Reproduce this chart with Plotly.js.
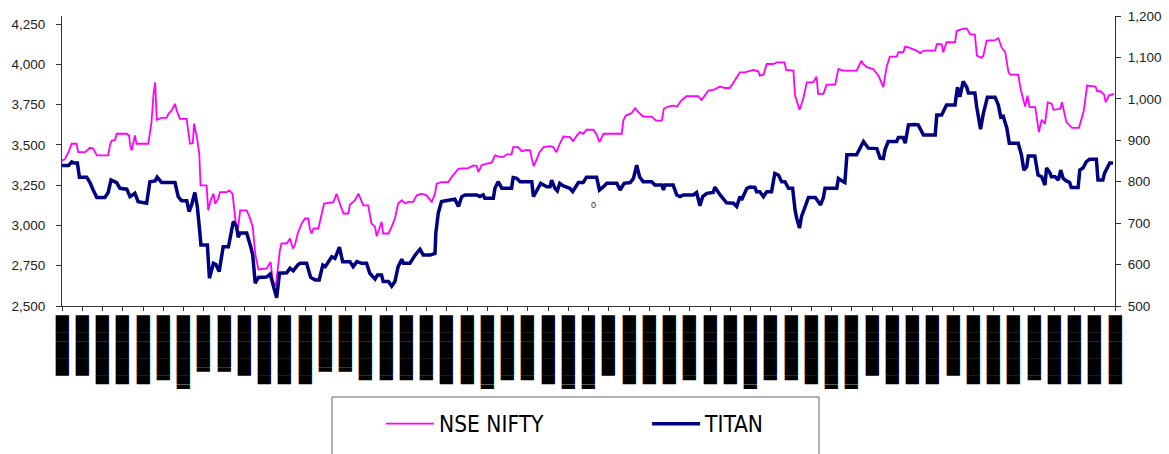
<!DOCTYPE html>
<html>
<head>
<meta charset="utf-8">
<script src="https://cdn.plot.ly/plotly-3.0.1.min.js"></script>
<style>
  html, body { margin: 0; padding: 0; background: #ffffff; }
  #chart { width: 1169px; height: 454px; }
</style>
</head>
<body>
<div id="chart"></div>
<script>
// ---- data (trading day index, value) ----
const niftyDay = [0.0,0.7,1.6,2.4,3.6,4.0,5.7,6.9,7.7,8.6,11.4,11.9,12.3,13.1,13.5,16.0,16.6,16.8,17.2,17.6,18.0,18.4,21.3,22.1,22.6,23.0,23.4,24.6,25.8,26.3,27.1,27.9,28.3,29.1,30.8,31.2,31.6,32.3,32.6,33.3,33.9,34.2,35.7,36.1,36.7,37.4,37.8,38.6,39.0,40.7,41.3,42.1,42.5,43.1,43.5,44.0,45.6,46.3,47.1,47.7,48.5,50.5,51.5,52.0,52.8,53.8,54.2,55.5,56.3,57.0,57.5,58.2,59.2,60.0,60.8,61.2,61.6,62.1,63.3,64.1,64.7,67.0,67.8,68.6,69.5,70.7,71.1,72.3,73.2,74.4,75.6,76.4,77.3,77.7,78.4,78.9,79.3,80.6,81.4,82.2,83.0,83.9,84.7,85.5,86.7,87.6,88.8,90.0,91.3,92.1,92.5,93.7,95.4,96.2,97.9,100.3,101.6,102.4,102.8,103.6,104.9,106.1,106.9,108.1,109.0,109.8,111.0,111.4,112.6,113.5,114.7,115.6,116.0,116.5,117.1,117.9,118.9,120.5,121.3,122.1,122.9,123.8,125.4,126.2,127.1,127.9,128.7,129.5,131.2,132.0,132.7,133.7,138.2,138.6,139.2,140.6,141.5,142.3,143.5,145.6,146.7,148.1,148.6,149.7,150.9,151.9,152.9,154.2,157.1,157.9,159.6,160.8,162.5,163.7,164.9,165.8,167.4,168.6,169.9,170.7,171.9,172.3,173.2,174.0,175.6,176.5,178.4,178.8,180.6,181.0,182.1,183.0,183.9,185.5,186.3,186.7,188.0,188.8,190.9,191.7,192.9,196.2,197.4,197.8,198.7,200.3,201.6,202.8,203.6,204.4,206.1,206.5,207.7,208.2,209.0,211.0,211.9,212.7,215.6,216.0,217.2,217.6,218.4,220.5,220.9,222.2,223.4,224.2,225.4,225.9,227.1,227.5,228.3,230.4,231.2,232.0,232.9,233.7,234.1,236.1,236.7,237.8,238.4,238.9,240.3,241.2,241.9,242.7,243.4,244.4,244.8,246.5,246.9,248.0,249.4,251.1,252.3,253.1,255.2,255.6,256.4,257.3,257.7,258.5,259.7];
const niftyVal = [3404,3410,3455,3507,3507,3455,3455,3482,3478,3435,3435,3505,3527,3530,3569,3569,3555,3500,3466,3510,3558,3507,3507,3641,3817,3888,3656,3668,3668,3693,3715,3755,3715,3662,3662,3579,3507,3510,3631,3548,3445,3249,3249,3094,3156,3197,3135,3166,3207,3207,3218,3197,3105,2970,2990,3094,3094,3053,2991,2826,2727,2733,2774,2661,2624,2847,2888,2888,2919,2857,2878,2950,3012,3043,3043,2981,2950,2981,2981,3074,3136,3145,3197,3136,3074,3074,3130,3156,3197,3125,3125,3012,2991,2933,2985,3022,2950,2950,2991,3043,3136,3156,3136,3146,3146,3187,3197,3187,3146,3197,3259,3269,3269,3300,3352,3356,3373,3369,3331,3373,3383,3390,3435,3425,3425,3441,3441,3486,3486,3461,3469,3466,3414,3368,3404,3455,3486,3492,3486,3455,3507,3552,3548,3523,3558,3579,3569,3594,3594,3565,3517,3569,3569,3651,3682,3696,3728,3703,3676,3676,3651,3651,3724,3738,3744,3738,3775,3802,3802,3779,3837,3841,3862,3853,3853,3888,3950,3950,3961,3965,3957,3930,3936,4002,4002,4012,4012,3965,3961,3806,3718,3785,3888,3888,3924,3817,3817,3874,3874,3971,3961,3961,4023,4002,3982,3971,3930,3858,3982,4048,4048,4075,4075,4110,4105,4085,4070,4085,4085,4126,4126,4075,4137,4137,4208,4219,4223,4188,4185,4054,4040,4054,4147,4150,4163,4105,4075,3950,3936,3936,3847,3738,3806,3734,3734,3579,3656,3631,3765,3755,3718,3724,3765,3641,3606,3606,3713,3868,3862,3833,3833,3812,3765,3806,3817];

const titanDay = [0.0,1.6,2.4,3.0,3.8,4.3,6.1,6.9,7.7,8.6,10.6,11.4,12.1,12.7,13.5,14.3,16.0,16.8,18.0,18.8,20.9,21.7,23.0,23.5,24.6,27.9,28.7,29.5,30.8,31.4,32.0,32.8,33.4,33.9,34.3,35.9,36.4,37.4,38.0,38.8,39.4,39.8,41.1,41.5,42.3,43.1,43.5,44.0,45.6,46.6,47.1,47.7,48.5,50.5,51.4,52.2,53.0,53.7,55.5,56.3,57.1,58.2,58.8,60.4,61.4,62.5,63.5,64.4,65.0,65.8,66.6,67.4,68.5,69.3,71.1,71.9,72.8,74.0,75.2,76.0,77.3,77.9,78.9,79.3,80.6,81.4,82.2,83.0,83.9,84.3,85.9,87.2,88.4,89.2,90.9,92.1,92.3,92.9,93.7,95.8,97.0,97.9,98.7,99.5,102.4,103.2,104.0,104.4,106.5,106.9,107.7,108.6,111.0,111.4,112.3,113.1,116.0,116.4,117.2,118.2,119.7,120.5,120.9,121.7,122.3,122.9,123.8,125.4,126.1,126.7,127.5,128.7,129.5,132.0,132.7,133.7,134.5,137.0,137.8,138.8,140.3,141.1,141.9,142.6,143.5,145.6,146.4,148.1,148.5,148.9,150.9,151.8,152.6,153.4,155.9,156.7,157.5,158.2,159.2,160.8,161.2,162.5,164.1,165.8,166.6,167.4,167.8,169.1,169.9,171.1,171.5,172.3,173.2,174.0,175.2,176.0,176.9,177.7,178.5,179.4,180.4,181.0,181.4,182.1,182.6,183.5,184.3,186.0,186.8,187.3,188.0,188.4,191.3,191.7,192.9,193.3,193.8,196.2,197.9,199.1,201.2,202.0,202.8,203.2,204.0,206.1,206.5,207.7,208.2,209.0,210.6,211.4,212.7,215.6,216.0,217.2,218.4,220.5,221.1,221.7,222.5,223.4,223.8,225.4,225.9,226.8,227.5,228.5,230.4,231.2,231.8,232.4,233.3,233.9,236.1,236.9,237.5,238.2,238.6,240.2,241.0,241.9,242.7,243.1,243.9,244.3,245.2,246.0,246.6,247.2,248.0,248.8,249.2,250.9,251.3,252.1,252.9,253.7,255.4,255.8,257.0,257.4,258.7,259.5];
const titanVal = [839,839,848,845,845,811,811,798,780,762,762,774,804,801,798,784,782,764,772,752,748,800,802,811,798,798,764,754,754,728,744,774,740,692,647,647,567,603,600,583,619,643,643,667,704,692,666,676,676,643,623,555,569,570,577,548,520,579,580,591,585,599,603,603,569,563,563,599,595,607,619,615,642,607,607,595,607,603,603,579,565,575,575,559,559,548,559,595,613,603,603,623,637,623,623,627,676,724,752,756,758,740,764,768,768,764,768,760,760,784,800,784,784,810,808,800,800,764,780,796,788,788,804,784,778,796,790,784,776,787,798,798,811,811,780,788,796,796,780,796,798,808,840,812,800,800,792,792,780,792,792,768,764,768,768,774,742,764,772,774,787,768,749,748,740,764,756,784,787,786,776,776,764,776,776,820,816,800,800,784,784,732,712,688,716,740,762,762,752,744,762,784,784,808,800,798,865,865,897,881,880,857,856,877,897,897,907,907,893,937,938,937,913,913,961,961,985,985,1028,1005,1042,1028,1014,1014,978,927,965,1004,1004,985,956,958,929,893,893,865,828,836,862,862,816,812,792,833,822,812,812,804,828,808,802,798,786,786,828,833,848,854,854,804,804,820,845,845];

// left / right axis ticks
const niftyTicks = [2500,2750,3000,3250,3500,3750,4000,4250];
const titanTicks = [500,600,700,800,900,1000,1100,1200];

// weekly x ticks (every 5 trading days) and their labels, drawn as solid blocks
const weekTickDays = [0,5,10,15,20,25,30,35,40,45,50,55,60,65,70,75,80,85,90,95,100,105,110,115,120,125,130,135,140,145,150,155,160,165,170,175,180,185,190,195,200,205,210,215,220,225,230,235,240,245,250,255,260];
// label lengths in half-blocks
const weekLabelHalfBlocks = [14,14,16,16,16,15,17,13,13,14,16,16,16,13,13,15,15,15,15,16,16,17,15,15,16,17,17,14,16,16,16,15,16,16,17,15,15,16,17,17,14,16,16,16,14,16,16,16,15,16,16,16,16];
const weekLabels = weekLabelHalfBlocks.map(h => (h % 2 ? '\u2590' : '') + '\u2588'.repeat(Math.floor(h / 2)));

const seriesNames = ['NSE NIFTY', 'TITAN'];

const traces = [
  {
    x: niftyDay, y: niftyVal, name: seriesNames[0], type: 'scatter', mode: 'lines',
    line: { color: '#FF00FF', width: 1.8 }, yaxis: 'y', hoverinfo: 'skip'
  },
  {
    x: titanDay, y: titanVal, name: seriesNames[1], type: 'scatter', mode: 'lines',
    line: { color: '#000080', width: 3.5 }, yaxis: 'y2', hoverinfo: 'skip'
  }
];

const axisFont = { family: 'Liberation Sans, Arial, sans-serif', size: 13.5, color: '#222222' };

const layout = {
  width: 1169, height: 454,
  margin: { l: 62, r: 54, t: 16, b: 148, pad: 0 },
  paper_bgcolor: '#ffffff', plot_bgcolor: '#ffffff',
  showlegend: true,
  xaxis: {
    range: [0, 260], tickmode: 'array', tickvals: weekTickDays, ticktext: weekLabels,
    tickangle: -90, ticks: 'outside', ticklen: 4, tickcolor: '#333333', tickwidth: 1,
    showline: true, linecolor: '#333333', linewidth: 1, showgrid: false, zeroline: false,
    tickfont: { family: 'DejaVu Sans', size: 11.2, color: '#000000' }, automargin: false, fixedrange: true
  },
  yaxis: {
    range: [2500, 4300], tickmode: 'array', tickvals: niftyTicks, tickformat: ',d',
    ticks: 'outside', ticklen: 5, tickcolor: '#333333', showline: true, linecolor: '#333333', linewidth: 1,
    showgrid: false, zeroline: false, tickfont: axisFont, ticklabelstandoff: 8, automargin: false, fixedrange: true
  },
  yaxis2: {
    range: [500, 1200], tickmode: 'array', tickvals: titanTicks, tickformat: ',d',
    overlaying: 'y', side: 'right',
    ticks: 'outside', ticklen: 5, tickcolor: '#333333', showline: true, linecolor: '#333333', linewidth: 1,
    showgrid: false, zeroline: false, tickfont: axisFont, ticklabelstandoff: 4, automargin: false, fixedrange: true
  },
  legend: {
    orientation: 'h', xref: 'container', yref: 'container',
    x: 0.326, y: 0.066, xanchor: 'left', yanchor: 'middle',
    bgcolor: 'rgba(0,0,0,0)', borderwidth: 0,
    entrywidth: 203, entrywidthmode: 'pixels', itemwidth: 48,
    font: { family: 'Liberation Sans Narrow, DejaVu Sans Condensed, Arial Narrow, sans-serif', size: 22.5, color: '#000000' }
  },
  shapes: [
    { type: 'rect', xref: 'paper', yref: 'paper', x0: 0.2564, x1: 0.7189, y0: -0.3138, y1: -0.60,
      line: { color: '#666666', width: 1 }, fillcolor: 'rgba(0,0,0,0)', layer: 'above' }
  ],
  annotations: [
    { xref: 'paper', yref: 'paper', x: 0.505, y: 0.324, text: '0', showarrow: false,
      font: { family: 'Liberation Sans, Arial, sans-serif', size: 9, color: '#333333' } }
  ]
};

Plotly.newPlot('chart', traces, layout, { displayModeBar: false, staticPlot: true });
</script>
</body>
</html>
